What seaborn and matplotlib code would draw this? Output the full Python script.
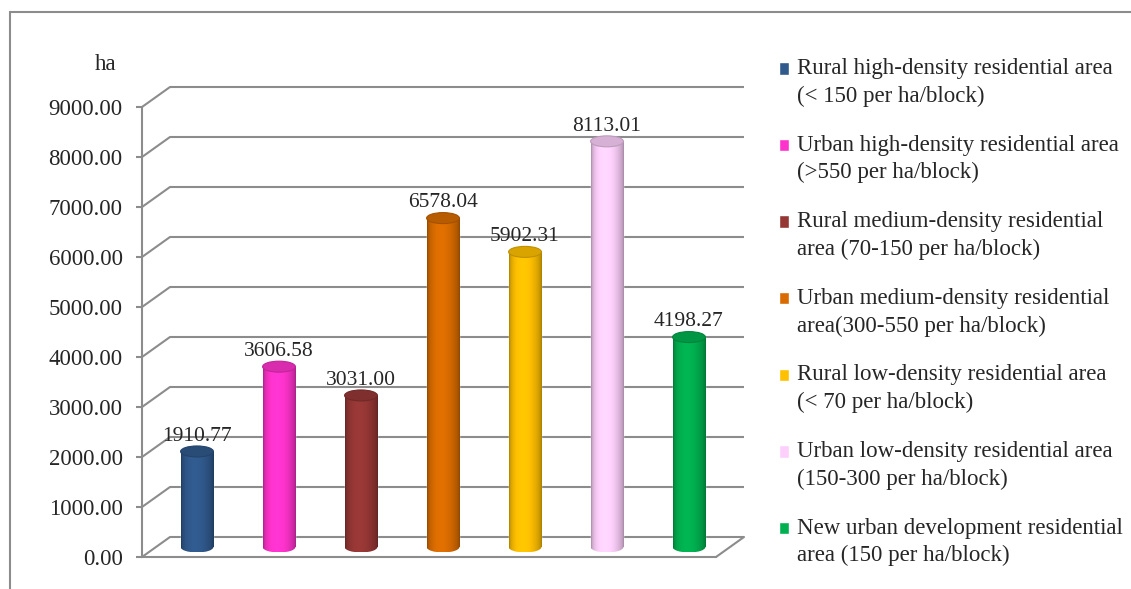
import numpy as np
import pandas as pd
import seaborn as sns
import matplotlib.pyplot as plt
from matplotlib.patches import Ellipse, Rectangle, ConnectionPatch
from matplotlib.legend_handler import HandlerPatch

categories = [
    'Rural high-density residential area\n(< 150 per ha/block)',
    'Urban high-density residential area\n(>550 per ha/block)',
    'Rural medium-density residential\narea (70-150 per ha/block)',
    'Urban medium-density residential\narea(300-550 per ha/block)',
    'Rural low-density residential area\n(< 70 per ha/block)',
    'Urban low-density residential area\n(150-300 per ha/block)',
    'New urban development residential\narea (150 per ha/block)',
]
values = [1910.77, 3606.58, 3031.00, 6578.04, 5902.31, 8113.01, 4198.27]
colors = ['#30598c', '#ff33cc', '#953735', '#d96c00', '#ffc000', '#fdd0fb', '#00b050']
yticks = [0, 1000, 2000, 3000, 4000, 5000, 6000, 7000, 8000, 9000]
unit_label = 'ha'

sns.set_theme(style='white')
plt.rcParams['font.family'] = ['Liberation Serif', 'DejaVu Serif']
GRID = '#8c8c8c'

W, H = 1131, 589
fig = plt.figure(figsize=(W / 100, H / 100), dpi=100)
fig.patch.set_facecolor('white')


def px(l, b, w, h):
    return [l / W, b / H, w / W, h / H]


# three planes of the fake 3D box: back wall, bars (middle), front axis
bax = fig.add_axes(px(170, 52, 574, 450), zorder=-1)
fax = fig.add_axes(px(142, 32, 574, 450), zorder=0)
ax = fig.add_axes(px(156, 27, 574, 465), zorder=1)  # a bit below 0 for the round bottoms

df = pd.DataFrame({'category': categories, 'area': values})
sns.barplot(data=df, x='category', y='area', hue='category', palette=colors,
            dodge=False, width=0.4, saturation=1, ax=ax, legend=True)

for a in (ax, bax, fax):
    a.set_xlim(-0.5, 6.5)
    a.patch.set_visible(False)
    a.set_xlabel('')
    a.set_ylabel('')
    a.set_xticks([])
ax.set_ylim(-300, 9000)
bax.set_ylim(0, 9000)
fax.set_ylim(0, 9000)

for a in (ax, bax):
    a.set_yticks([])
    for s in a.spines.values():
        s.set_visible(False)

# back wall lines
bax.hlines(yticks, -0.5, 6.5, color=GRID, lw=1.5, clip_on=False)

# front axis
for name, s in fax.spines.items():
    s.set_visible(name in ('left', 'bottom'))
    s.set_color(GRID)
    s.set_linewidth(1.5)
fax.set_yticks(yticks)
fax.set_yticklabels([f'{v:.2f}' for v in yticks], fontsize=16.5)
fax.tick_params(axis='y', direction='out', length=4, width=1.5, color=GRID, pad=10, left=True)

# depth connectors
for v in yticks:
    fig.add_artist(ConnectionPatch(xyA=(-0.5, v), coordsA=fax.transData,
                                   xyB=(-0.5, v), coordsB=bax.transData,
                                   color=GRID, lw=1.5))
fig.add_artist(ConnectionPatch(xyA=(6.5, 0), coordsA=fax.transData,
                               xyB=(6.5, 0), coordsB=bax.transData,
                               color=GRID, lw=1.5))

# cylinder look
ell_h = 9300 * 11 / ax.bbox.height
t = np.linspace(0, 1, 60)
shade = 0.66 + 0.38 * np.sin(np.pi * t ** 0.8) ** 0.6
bars = sorted([b for c in ax.containers for b in c], key=lambda b: b.get_x())
for b in bars:
    x0, w, h = b.get_x(), b.get_width(), b.get_height()
    cx = x0 + w / 2
    col = np.array(b.get_facecolor()[:3])
    row = np.clip(col[None, :] * shade[:, None], 0, 1)
    img = np.tile(row[None, :, :], (2, 1, 1))
    ax.imshow(img, extent=(x0, x0 + w, 0, h), aspect='auto', zorder=3, interpolation='bilinear')
    bottom = Ellipse((cx, 0), w, ell_h, facecolor='none', edgecolor='none')
    ax.add_patch(bottom)
    im = ax.imshow(img, extent=(x0, x0 + w, -ell_h / 2, 0), aspect='auto', zorder=3,
                   interpolation='bilinear')
    im.set_clip_path(bottom)
    ax.add_patch(Ellipse((cx, h), w, ell_h, facecolor=np.clip(col * 0.85, 0, 1),
                         edgecolor=np.clip(col * 0.75, 0, 1), lw=0.8, zorder=4))
    ax.annotate(f'{h:.2f}', (cx, h), xytext=(0, 11), textcoords='offset points',
                ha='center', va='center', fontsize=15.5, zorder=5)
ax.set_xlim(-0.5, 6.5)
ax.set_ylim(-300, 9000)


def top_square(legend, orig_handle, xdescent, ydescent, width, height, fontsize):
    # square next to the first line of a two-line label
    return Rectangle((-xdescent, -ydescent + 0.6 * fontsize), width, height)


handles, labels = ax.get_legend_handles_labels()
if ax.get_legend() is not None:
    ax.get_legend().remove()
leg = fig.legend(handles, labels, loc='upper left', bbox_to_anchor=(779 / W, 1 - 58 / H),
                 frameon=False, fontsize=16.5, handlelength=0.45, handleheight=0.45,
                 handletextpad=0.35, labelspacing=1.22, borderaxespad=0, borderpad=0,
                 handler_map={Rectangle: HandlerPatch(patch_func=top_square)})
for txt in leg.get_texts():
    txt.set_linespacing(1.4)

fig.text(106 / W, 1 - 65 / H, unit_label, ha='center', va='center', fontsize=16.5)

fig.add_artist(Rectangle((10 / W, -0.1), 1.2, 1 - 12 / H + 0.1, transform=fig.transFigure,
                         fill=False, edgecolor=GRID, lw=1.5))

fig.savefig('out.png', dpi=100)
